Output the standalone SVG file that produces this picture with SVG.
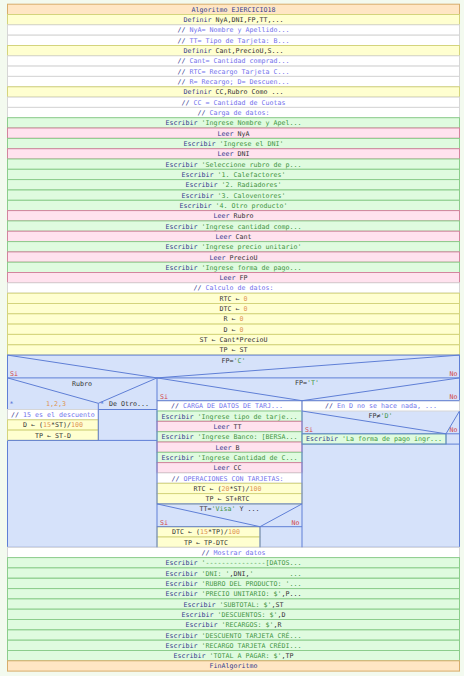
<svg xmlns="http://www.w3.org/2000/svg" width="464" height="676" viewBox="0 0 464 676">
<style>
  text { font-family: "DejaVu Sans Mono", "Liberation Mono", monospace; font-size: 6.65px; fill: #333333; }
  .m { text-anchor: middle; }
  .k { fill: #34408e; }
  .s { fill: #3f963f; }
  .c { fill: #7373ec; }
  .cs { fill: #33338a; }
  .n { fill: #de9450; }
  .v { fill: #333333; }
  .lbl { fill: #d24848; }
  .ast { fill: #4f6fd4; }
  .orange { fill: #ffe6c4; stroke: #d7ad6c; stroke-width: 1; }
  .yellow { fill: #ffffd0; stroke: #d4d47c; stroke-width: 1; }
  .white { fill: #ffffff; stroke: #d6d6d6; stroke-width: 1; }
  .green { fill: #dffbdf; stroke: #8ccd8c; stroke-width: 1; }
  .pink { fill: #ffe2ee; stroke: #d3849e; stroke-width: 1; }
  .blue { fill: #d6e2fa; stroke: #5f7fd6; stroke-width: 1; }
  .ln { stroke: #5f7fd6; stroke-width: 1; fill: none; }
</style>
<rect x="0" y="0" width="464" height="676" fill="#f3faef"/>

<!-- header / declarations -->
<g id="n_algoritmo"><rect class="orange" x="7.5" y="4.2" width="452" height="10.3"/><text class="m k" x="233.5" y="11.8">Algoritmo EJERCICIO18</text></g>
<g id="n_def1"><rect class="yellow" x="7.5" y="14.5" width="452" height="10.3"/><text class="m" x="233.5" y="22.1"><tspan class="k">Definir </tspan><tspan>NyA,DNI,FP,TT,...</tspan></text></g>
<g id="n_c1"><rect class="white" x="7.5" y="24.8" width="452" height="10.3"/><text class="m" x="233.5" y="32.4"><tspan class="cs">// </tspan><tspan class="c">NyA= Nombre y Apellido...</tspan></text></g>
<g id="n_c2"><rect class="white" x="7.5" y="35.2" width="452" height="10.3"/><text class="m" x="233.5" y="42.8"><tspan class="cs">// </tspan><tspan class="c">TT= Tipo de Tarjeta: B...</tspan></text></g>
<g id="n_def2"><rect class="yellow" x="7.5" y="45.5" width="452" height="10.3"/><text class="m" x="233.5" y="53.1"><tspan class="k">Definir </tspan><tspan>Cant,PrecioU,S...</tspan></text></g>
<g id="n_c3"><rect class="white" x="7.5" y="55.8" width="452" height="10.3"/><text class="m" x="233.5" y="63.4"><tspan class="cs">// </tspan><tspan class="c">Cant= Cantidad comprad...</tspan></text></g>
<g id="n_c4"><rect class="white" x="7.5" y="66.1" width="452" height="10.3"/><text class="m" x="233.5" y="73.7"><tspan class="cs">// </tspan><tspan class="c">RTC= Recargo Tarjeta C...</tspan></text></g>
<g id="n_c5"><rect class="white" x="7.5" y="76.4" width="452" height="10.3"/><text class="m" x="233.5" y="84.0"><tspan class="cs">// </tspan><tspan class="c">R= Recargo; D= Descuen...</tspan></text></g>
<g id="n_def3"><rect class="yellow" x="7.5" y="86.8" width="452" height="10.3"/><text class="m" x="233.5" y="94.4"><tspan class="k">Definir </tspan><tspan>CC,Rubro Como ...</tspan></text></g>
<g id="n_c6"><rect class="white" x="7.5" y="97.1" width="452" height="10.3"/><text class="m" x="233.5" y="104.7"><tspan class="cs">// </tspan><tspan class="c">CC = Cantidad de Cuotas</tspan></text></g>

<!-- input section -->
<g id="n_c7"><rect class="white" x="7.5" y="107.4" width="452" height="10.3"/><text class="m" x="233.5" y="115.0"><tspan class="cs">// </tspan><tspan class="c">Carga de datos:</tspan></text></g>
<g id="n_w1"><rect class="green" x="7.5" y="117.7" width="452" height="10.3"/><text class="m" x="233.5" y="125.3"><tspan class="k">Escribir </tspan><tspan class="s">'Ingrese Nombre y Apel...</tspan></text></g>
<g id="n_r1"><rect class="pink" x="7.5" y="128.0" width="452" height="10.3"/><text class="m" x="233.5" y="135.6"><tspan class="k">Leer </tspan><tspan>NyA</tspan></text></g>
<g id="n_w2"><rect class="green" x="7.5" y="138.4" width="452" height="10.3"/><text class="m" x="233.5" y="146.0"><tspan class="k">Escribir </tspan><tspan class="s">'Ingrese el DNI'</tspan></text></g>
<g id="n_r2"><rect class="pink" x="7.5" y="148.7" width="452" height="10.3"/><text class="m" x="233.5" y="156.3"><tspan class="k">Leer </tspan><tspan>DNI</tspan></text></g>
<g id="n_w3"><rect class="green" x="7.5" y="159.0" width="452" height="10.3"/><text class="m" x="233.5" y="166.6"><tspan class="k">Escribir </tspan><tspan class="s">'Seleccione rubro de p...</tspan></text></g>
<g id="n_w4"><rect class="green" x="7.5" y="169.3" width="452" height="10.3"/><text class="m" x="233.5" y="176.9"><tspan class="k">Escribir </tspan><tspan class="s">'1. Calefactores'</tspan></text></g>
<g id="n_w5"><rect class="green" x="7.5" y="179.6" width="452" height="10.3"/><text class="m" x="233.5" y="187.2"><tspan class="k">Escribir </tspan><tspan class="s">'2. Radiadores'</tspan></text></g>
<g id="n_w6"><rect class="green" x="7.5" y="190.0" width="452" height="10.3"/><text class="m" x="233.5" y="197.6"><tspan class="k">Escribir </tspan><tspan class="s">'3. Caloventores'</tspan></text></g>
<g id="n_w7"><rect class="green" x="7.5" y="200.3" width="452" height="10.3"/><text class="m" x="233.5" y="207.9"><tspan class="k">Escribir </tspan><tspan class="s">'4. Otro producto'</tspan></text></g>
<g id="n_r3"><rect class="pink" x="7.5" y="210.6" width="452" height="10.3"/><text class="m" x="233.5" y="218.2"><tspan class="k">Leer </tspan><tspan>Rubro</tspan></text></g>
<g id="n_w8"><rect class="green" x="7.5" y="220.9" width="452" height="10.3"/><text class="m" x="233.5" y="228.5"><tspan class="k">Escribir </tspan><tspan class="s">'Ingrese cantidad comp...</tspan></text></g>
<g id="n_r4"><rect class="pink" x="7.5" y="231.2" width="452" height="10.3"/><text class="m" x="233.5" y="238.8"><tspan class="k">Leer </tspan><tspan>Cant</tspan></text></g>
<g id="n_w9"><rect class="green" x="7.5" y="241.6" width="452" height="10.3"/><text class="m" x="233.5" y="249.2"><tspan class="k">Escribir </tspan><tspan class="s">'Ingrese precio unitario'</tspan></text></g>
<g id="n_r5"><rect class="pink" x="7.5" y="251.9" width="452" height="10.3"/><text class="m" x="233.5" y="259.5"><tspan class="k">Leer </tspan><tspan>PrecioU</tspan></text></g>
<g id="n_w10"><rect class="green" x="7.5" y="262.2" width="452" height="10.3"/><text class="m" x="233.5" y="269.8"><tspan class="k">Escribir </tspan><tspan class="s">'Ingrese forma de pago...</tspan></text></g>
<g id="n_r6"><rect class="pink" x="7.5" y="272.5" width="452" height="10.3"/><text class="m" x="233.5" y="280.1"><tspan class="k">Leer </tspan><tspan>FP</tspan></text></g>

<!-- calculations -->
<g id="n_c8"><rect class="white" x="7.5" y="282.8" width="452" height="10.3"/><text class="m" x="233.5" y="290.4"><tspan class="cs">// </tspan><tspan class="c">Calculo de datos:</tspan></text></g>
<g id="n_a1"><rect class="yellow" x="7.5" y="293.2" width="452" height="10.3"/><text class="m" x="233.5" y="300.8">RTC ← <tspan class="n">0</tspan></text></g>
<g id="n_a2"><rect class="yellow" x="7.5" y="303.5" width="452" height="10.3"/><text class="m" x="233.5" y="311.1">DTC ← <tspan class="n">0</tspan></text></g>
<g id="n_a3"><rect class="yellow" x="7.5" y="313.8" width="452" height="10.3"/><text class="m" x="233.5" y="321.4">R ← <tspan class="n">0</tspan></text></g>
<g id="n_a4"><rect class="yellow" x="7.5" y="324.1" width="452" height="10.3"/><text class="m" x="233.5" y="331.7">D ← <tspan class="n">0</tspan></text></g>
<g id="n_a5"><rect class="yellow" x="7.5" y="334.4" width="452" height="10.3"/><text class="m" x="233.5" y="342.0">ST ← Cant*PrecioU</text></g>
<g id="n_a6"><rect class="yellow" x="7.5" y="344.8" width="452" height="10.3"/><text class="m" x="233.5" y="352.4">TP ← ST</text></g>

<!-- decision FP='C' -->
<g id="n_ifC">
  <rect class="blue" x="7.5" y="355.1" width="452" height="192.2"/>
  <text class="m" x="233.5" y="362.5">FP=<tspan class="s">'C'</tspan></text>
  <text class="lbl" x="10" y="376.4">Si</text>
  <text class="lbl" x="457.5" y="376.4" text-anchor="end">No</text>
</g>

<!-- Segun Rubro -->
<g id="n_segun">
  <text class="m" x="82" y="386.2">Rubro</text>
  <text class="ast" x="9.5" y="406.2">*</text>
  <text class="m n" x="56" y="406.2">1,2,3</text>
  <text class="ast" x="100" y="406.2">*</text>
  <text class="m" x="129" y="406.2">De Otro...</text>
</g>
<g id="n_c9"><rect class="white" x="7.5" y="409.5" width="90.8" height="10.3"/><text class="m" x="52.9" y="417.1"><tspan class="cs">// </tspan><tspan class="c">15 es el descuento</tspan></text></g>
<g id="n_a7"><rect class="yellow" x="7.5" y="419.8" width="90.8" height="10.3"/><text class="m" x="52.9" y="427.4">D ← (<tspan class="n">15</tspan>*ST)/<tspan class="n">100</tspan></text></g>
<g id="n_a8"><rect class="yellow" x="7.5" y="430.1" width="90.8" height="10.3"/><text class="m" x="52.9" y="437.7">TP ← ST-D</text></g>

<!-- decision FP='T' -->
<g id="n_ifT">
  <text class="m" x="307" y="385.3">FP=<tspan class="s">'T'</tspan></text>
  <text class="lbl" x="160" y="399.2">Si</text>
  <text class="lbl" x="457.5" y="399.2" text-anchor="end">No</text>
</g>
<g id="n_c10"><rect class="white" x="157" y="400.7" width="145" height="10.3"/><text class="m" x="227" y="408.3"><tspan class="cs">// </tspan><tspan class="c">CARGA DE DATOS DE TARJ...</tspan></text></g>
<g id="n_w11"><rect class="green" x="157" y="411.0" width="145" height="10.3"/><text class="m" x="229.5" y="418.6"><tspan class="k">Escribir </tspan><tspan class="s">'Ingrese tipo de tarje...</tspan></text></g>
<g id="n_r7"><rect class="pink" x="157" y="421.3" width="145" height="10.3"/><text class="m" x="227.5" y="428.9"><tspan class="k">Leer </tspan><tspan>TT</tspan></text></g>
<g id="n_w12"><rect class="green" x="157" y="431.7" width="145" height="10.3"/><text class="m" x="229.5" y="439.3"><tspan class="k">Escribir </tspan><tspan class="s">'Ingrese Banco: [BERSA...</tspan></text></g>
<g id="n_r8"><rect class="pink" x="157" y="442.0" width="145" height="10.3"/><text class="m" x="227.5" y="449.6"><tspan class="k">Leer </tspan><tspan>B</tspan></text></g>
<g id="n_w13"><rect class="green" x="157" y="452.3" width="145" height="10.3"/><text class="m" x="229.5" y="459.9"><tspan class="k">Escribir </tspan><tspan class="s">'Ingrese Cantidad de C...</tspan></text></g>
<g id="n_r9"><rect class="pink" x="157" y="462.6" width="145" height="10.3"/><text class="m" x="227.5" y="470.2"><tspan class="k">Leer </tspan><tspan>CC</tspan></text></g>
<g id="n_c11"><rect class="white" x="157" y="472.9" width="145" height="10.3"/><text class="m" x="227.5" y="480.5"><tspan class="cs">// </tspan><tspan class="c">OPERACIONES CON TARJETAS:</tspan></text></g>
<g id="n_a9"><rect class="yellow" x="157" y="483.3" width="145" height="10.3"/><text class="m" x="227.5" y="490.9">RTC ← (<tspan class="n">20</tspan>*ST)/<tspan class="n">100</tspan></text></g>
<g id="n_a10"><rect class="yellow" x="157" y="493.6" width="145" height="10.3"/><text class="m" x="227.5" y="501.2">TP ← ST+RTC</text></g>

<!-- decision TT='Visa' Y ... -->
<g id="n_ifV">
  <text class="m" x="229.5" y="511.3">TT=<tspan class="s">'Visa'</tspan> Y ...</text>
  <text class="lbl" x="160" y="525.2">Si</text>
  <text class="lbl" x="299.5" y="525.2" text-anchor="end">No</text>
</g>
<g id="n_a11"><rect class="yellow" x="157" y="526.7" width="103" height="10.3"/><text class="m" x="206" y="534.3">DTC ← (<tspan class="n">15</tspan>*TP)/<tspan class="n">100</tspan></text></g>
<g id="n_a12"><rect class="yellow" x="157" y="537.0" width="103" height="10.3"/><text class="m" x="206" y="544.6">TP ← TP-DTC</text></g>

<!-- FP='T' No branch -->
<g id="n_c12"><rect class="white" x="302" y="400.7" width="157.5" height="10.3"/><text class="m" x="381" y="408.3"><tspan class="cs">// </tspan><tspan class="c">En D no se hace nada, ...</tspan></text></g>
<g id="n_ifD">
  <text class="m" x="380.5" y="418.2">FP≠<tspan class="s">'D'</tspan></text>
  <text class="lbl" x="305" y="432.3">Si</text>
  <text class="lbl" x="457.5" y="432.3" text-anchor="end">No</text>
</g>
<g id="n_w14"><rect class="green" x="302" y="433.8" width="144" height="10.3"/><text class="m" x="374" y="441.4"><tspan class="k">Escribir </tspan><tspan class="s">'La forma de pago ingr...</tspan></text></g>

<!-- output section -->
<g id="n_c13"><rect class="white" x="7.5" y="547.3" width="452" height="10.3"/><text class="m" x="233.5" y="554.9"><tspan class="cs">// </tspan><tspan class="c">Mostrar datos</tspan></text></g>
<g id="n_w15"><rect class="green" x="7.5" y="557.6" width="452" height="10.3"/><text class="m" x="233.5" y="565.2"><tspan class="k">Escribir </tspan><tspan class="s">'---------------[DATOS...</tspan></text></g>
<g id="n_w16"><rect class="green" x="7.5" y="567.9" width="452" height="10.3"/><text class="m" x="233.5" y="575.5" xml:space="preserve"><tspan class="k">Escribir </tspan><tspan class="s">'DNI: '</tspan><tspan>,DNI,</tspan><tspan class="s">'         ...</tspan></text></g>
<g id="n_w17"><rect class="green" x="7.5" y="578.3" width="452" height="10.3"/><text class="m" x="233.5" y="585.9"><tspan class="k">Escribir </tspan><tspan class="s">'RUBRO DEL PRODUCTO: '...</tspan></text></g>
<g id="n_w18"><rect class="green" x="7.5" y="588.6" width="452" height="10.3"/><text class="m" x="233.5" y="596.2"><tspan class="k">Escribir </tspan><tspan class="s">'PRECIO UNITARIO: $'</tspan><tspan>,P...</tspan></text></g>
<g id="n_w19"><rect class="green" x="7.5" y="598.9" width="452" height="10.3"/><text class="m" x="233.5" y="606.5"><tspan class="k">Escribir </tspan><tspan class="s">'SUBTOTAL: $'</tspan><tspan>,ST</tspan></text></g>
<g id="n_w20"><rect class="green" x="7.5" y="609.2" width="452" height="10.3"/><text class="m" x="233.5" y="616.8"><tspan class="k">Escribir </tspan><tspan class="s">'DESCUENTOS: $'</tspan><tspan>,D</tspan></text></g>
<g id="n_w21"><rect class="green" x="7.5" y="619.5" width="452" height="10.3"/><text class="m" x="233.5" y="627.1"><tspan class="k">Escribir </tspan><tspan class="s">'RECARGOS: $'</tspan><tspan>,R</tspan></text></g>
<g id="n_w22"><rect class="green" x="7.5" y="629.9" width="452" height="10.3"/><text class="m" x="233.5" y="637.5"><tspan class="k">Escribir </tspan><tspan class="s">'DESCUENTO TARJETA CRÉ...</tspan></text></g>
<g id="n_w23"><rect class="green" x="7.5" y="640.2" width="452" height="10.3"/><text class="m" x="233.5" y="647.8"><tspan class="k">Escribir </tspan><tspan class="s">'RECARGO TARJETA CRÉDI...</tspan></text></g>
<g id="n_w24"><rect class="green" x="7.5" y="650.5" width="452" height="10.3"/><text class="m" x="233.5" y="658.1"><tspan class="k">Escribir </tspan><tspan class="s">'TOTAL A PAGAR: $'</tspan><tspan>,TP</tspan></text></g>
<g id="n_fin"><rect class="orange" x="7.5" y="660.8" width="452" height="10.3"/><text class="m k" x="233.5" y="668.4">FinAlgoritmo</text></g>

<!-- structure lines of the nested blocks -->
<g id="connectors" class="ln">
  <!-- FP='C' -->
  <path d="M7.5 355.1 L157 377.9 L459.5 355.1"/>
  <path d="M7.5 377.9 H459.5"/>
  <path d="M157 377.9 V547.3"/>
  <!-- Segun Rubro -->
  <path d="M7.5 377.9 L98.3 403.3 L157 377.9"/>
  <path d="M98.3 403.3 V440.4"/>
  <path d="M98.3 409.5 H157"/>
  <path d="M7.5 440.4 H157"/>
  <!-- FP='T' -->
  <path d="M157 377.9 L302 400.7 L459.5 377.9"/>
  <path d="M157 400.7 H459.5"/>
  <path d="M302 400.7 V547.3"/>
  <!-- FP≠'D' -->
  <path d="M302 411.0 L446 433.8 L459.5 411.0"/>
  <path d="M302 433.8 H459.5"/>
  <path d="M446 433.8 V444.1"/>
  <path d="M302 444.1 H459.5"/>
  <!-- TT='Visa' Y ... -->
  <path d="M157 503.9 H302"/>
  <path d="M157 503.9 L260 526.7 L302 503.9"/>
  <path d="M157 526.7 H302"/>
  <path d="M260 526.7 V547.3"/>
</g>
</svg>
